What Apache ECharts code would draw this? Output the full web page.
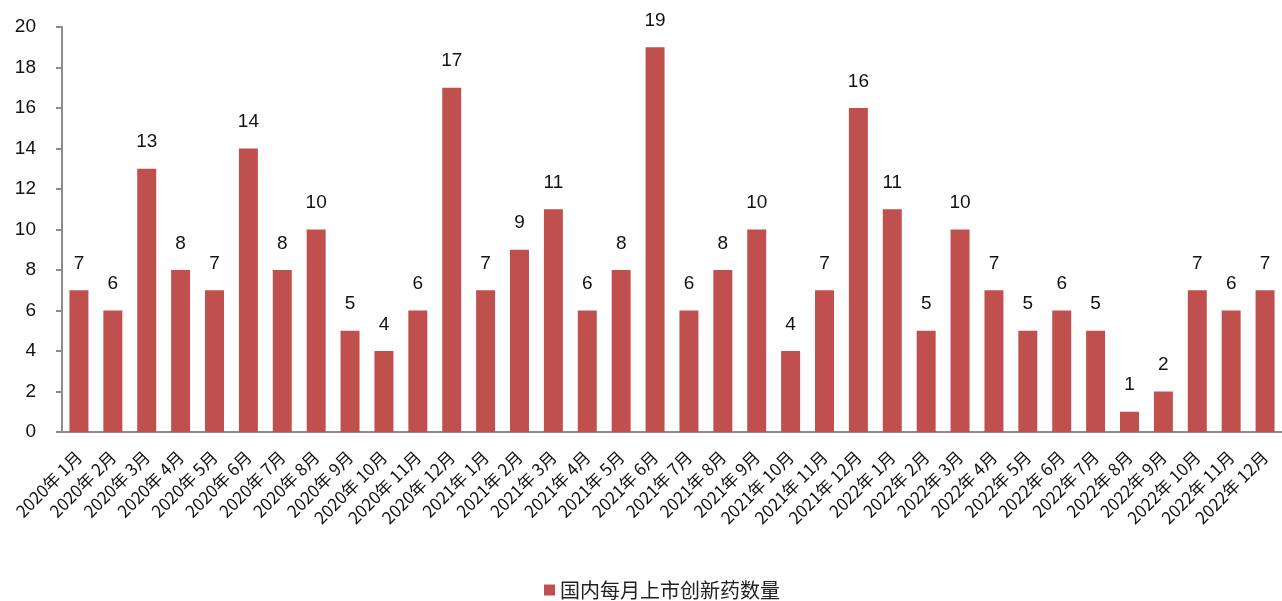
<!DOCTYPE html>
<html><head><meta charset="utf-8">
<script src="https://cdn.jsdelivr.net/npm/echarts@6/dist/echarts.min.js"></script>
<style>html,body{margin:0;padding:0;background:#fff}#c{width:1282px;height:601px}</style>
</head><body><div id="c"></div>
<script>
const years = ['2020', '2021', '2022'];
const months = [1,2,3,4,5,6,7,8,9,10,11,12];
const categories = [];
years.forEach(y => months.forEach(m => categories.push(y + '年 ' + m + '月')));
const seriesName = '国内每月上市创新药数量';
const values = [7,6,13,8,7,14,8,10,5,4,6,17,7,9,11,6,8,19,6,8,10,4,7,16,11,5,10,7,5,6,5,1,2,7,6,7];
const yTicks = { min: 0, max: 20, interval: 2 };

const chart = echarts.init(document.getElementById('c'));
chart.setOption({
  animation: false,
  grid: { left: 62, right: -9, top: 27, bottom: 169, containLabel: false },
  legend: {
    data: [seriesName], left: 544, itemWidth: 11, itemHeight: 11, icon: 'rect',
    itemGap: 6, top: 580, padding: 0,
    textStyle: { fontFamily: 'Noto Sans CJK SC', fontSize: 20, color: '#222', lineHeight: 20 }
  },
  xAxis: {
    type: 'category', data: categories,
    axisLine: { lineStyle: { color: '#8c8c8c', width: 2 } },
    axisTick: { show: false },
    axisLabel: { rotate: 45, interval: 0, fontSize: 17, color: '#111', fontFamily: 'Noto Sans CJK SC', margin: 22 }
  },
  yAxis: {
    type: 'value', min: yTicks.min, max: yTicks.max, interval: yTicks.interval,
    splitLine: { show: false },
    axisLine: { show: true, lineStyle: { color: '#8c8c8c', width: 2 } },
    axisTick: { show: true, length: 6, lineStyle: { color: '#8c8c8c', width: 2 } },
    axisLabel: { fontSize: 19, color: '#111', fontFamily: 'Liberation Sans', margin: 26 }
  },
  series: [{
    name: seriesName, type: 'bar', data: values, barWidth: '56%',
    itemStyle: { color: '#C0504D' },
    label: { show: true, position: 'top', fontSize: 19, color: '#111', distance: 17, fontFamily: 'Liberation Sans' }
  }]
});
</script></body></html>
